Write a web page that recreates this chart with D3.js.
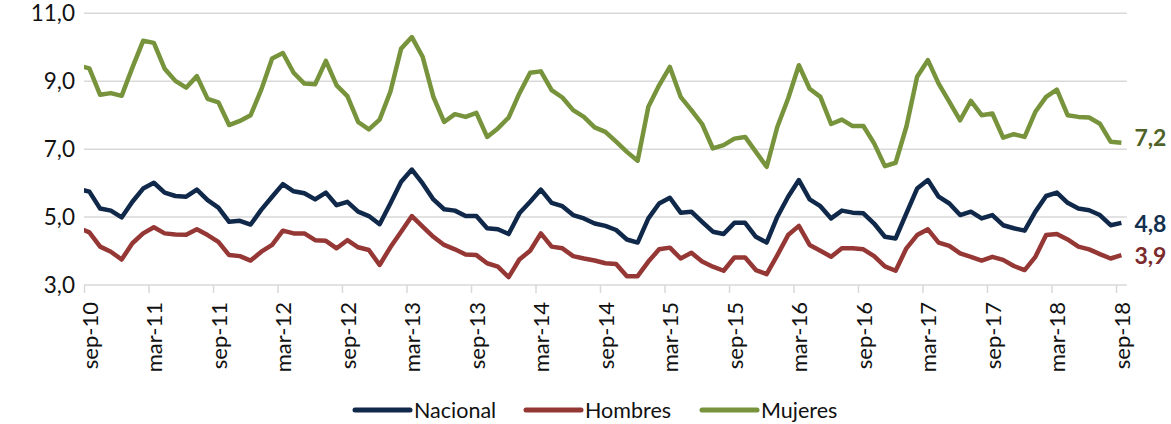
<!DOCTYPE html>
<html>
<head>
<meta charset="utf-8">
<script src="https://cdn.jsdelivr.net/npm/d3@7"></script>
<style>
    body { margin: 0; background: #fff; }
    text { font-family: Lato, 'Open Sans', sans-serif; }
</style>
</head>
<body>
<div id="chart"></div>
<script>
var monthNames = ['ene', 'feb', 'mar', 'abr', 'may', 'jun', 'jul', 'ago', 'sep', 'oct', 'nov', 'dic'],
    // ago-10 .. sep-18 (first month sits outside the plot and is clipped)
    months = d3.range(98).map(k => monthNames[(7 + k) % 12] + '-' + (10 + Math.floor((7 + k) / 12))),
    yTicks = [3, 5, 7, 9, 11],
    nacional = [5.82,
        5.75, 5.25, 5.19, 4.99, 5.45, 5.84, 6.01, 5.72, 5.62, 5.60, 5.81, 5.50, 5.28, 4.86, 4.89, 4.78,
        5.22, 5.60, 5.97, 5.76, 5.70, 5.52, 5.72, 5.35, 5.45, 5.16, 5.03, 4.79, 5.40, 6.04, 6.40, 5.99,
        5.52, 5.23, 5.19, 5.03, 5.03, 4.67, 4.64, 4.50, 5.11, 5.45, 5.81, 5.42, 5.32, 5.06, 4.96, 4.81,
        4.74, 4.62, 4.34, 4.25, 4.96, 5.40, 5.57, 5.13, 5.16, 4.86, 4.57, 4.50, 4.83, 4.83, 4.42, 4.25,
        5.01, 5.60, 6.09, 5.52, 5.32, 4.96, 5.19, 5.13, 5.11, 4.81, 4.42, 4.37, 5.11, 5.84, 6.09, 5.60,
        5.40, 5.06, 5.16, 4.96, 5.06, 4.76, 4.67, 4.60, 5.16, 5.62, 5.72, 5.42, 5.25, 5.20, 5.06, 4.76,
        4.83],
    hombres = [4.68,
        4.55, 4.13, 3.98, 3.75, 4.23, 4.52, 4.70, 4.52, 4.49, 4.48, 4.64, 4.47, 4.27, 3.88, 3.85, 3.72,
        3.98, 4.18, 4.60, 4.52, 4.52, 4.32, 4.30, 4.08, 4.32, 4.11, 4.03, 3.59, 4.11, 4.57, 5.03, 4.72,
        4.42, 4.18, 4.05, 3.90, 3.88, 3.64, 3.54, 3.23, 3.75, 4.01, 4.52, 4.13, 4.08, 3.85, 3.78, 3.72,
        3.64, 3.62, 3.26, 3.26, 3.69, 4.05, 4.10, 3.78, 3.95, 3.69, 3.54, 3.42, 3.81, 3.81, 3.44, 3.32,
        3.88, 4.47, 4.74, 4.18, 4.01, 3.83, 4.08, 4.08, 4.05, 3.85, 3.55, 3.42, 4.08, 4.47, 4.64, 4.25,
        4.15, 3.93, 3.83, 3.72, 3.83, 3.74, 3.56, 3.44, 3.83, 4.47, 4.50, 4.34, 4.13, 4.05, 3.91, 3.78,
        3.88],
    mujeres = [9.46,
        9.38, 8.60, 8.65, 8.57, 9.40, 10.19, 10.13, 9.37, 9.01, 8.81, 9.15, 8.48, 8.38, 7.71, 7.83, 8.00,
        8.76, 9.67, 9.83, 9.25, 8.93, 8.91, 9.60, 8.88, 8.56, 7.80, 7.58, 7.87, 8.69, 9.96, 10.30, 9.72,
        8.54, 7.80, 8.03, 7.95, 8.07, 7.36, 7.61, 7.93, 8.64, 9.25, 9.29, 8.74, 8.52, 8.15, 7.95, 7.64,
        7.51, 7.22, 6.92, 6.66, 8.25, 8.88, 9.42, 8.54, 8.15, 7.74, 7.02, 7.12, 7.31, 7.36, 6.92, 6.48,
        7.66, 8.49, 9.47, 8.78, 8.54, 7.74, 7.87, 7.68, 7.68, 7.17, 6.50, 6.60, 7.66, 9.13, 9.62, 8.93,
        8.39, 7.85, 8.42, 8.00, 8.05, 7.34, 7.44, 7.36, 8.10, 8.54, 8.75, 8.00, 7.95, 7.93, 7.75, 7.22,
        7.19],
    series = [
        { name: 'Nacional', values: nacional, color: '#10294a', label: '#14304f', dy: 0 },
        { name: 'Hombres', values: hombres, color: '#953735', label: '#7b2b2b', dy: 0 },
        { name: 'Mujeres', values: mujeres, color: '#77933c', label: '#4f6228', dy: -6 }
    ];

var width = 1171, height = 424,
    plotLeft = 84, plotRight = 1126.75, plotTop = 13.3, plotBottom = 285;

var svg = d3.select('#chart').append('svg')
    .attr('width', width)
    .attr('height', height);

var x = d3.scaleLinear().domain([0.5, months.length - 0.5]).range([plotLeft, plotRight]);
var y = d3.scaleLinear().domain([3, 11]).range([plotBottom, plotTop]);
var comma = d3.formatLocale({ decimal: ',', thousands: '.', grouping: [3], currency: ['', '€'] }).format('.1f');

svg.append('clipPath').attr('id', 'plot')
    .append('rect')
    .attr('x', plotLeft).attr('y', 0)
    .attr('width', plotRight - plotLeft).attr('height', height);

// Gridlines
svg.append('g')
    .selectAll('line')
    .data(yTicks)
    .enter().append('line')
    .attr('x1', plotLeft).attr('x2', plotRight)
    .attr('y1', d => y(d)).attr('y2', d => y(d))
    .attr('stroke', '#d9d9d9')
    .attr('stroke-width', 1.5);

// Y axis labels
var yAxis = svg.append('g')
    .attr('transform', 'translate(' + plotLeft + ',0)')
    .call(d3.axisLeft(y).tickValues(yTicks).tickSize(0).tickPadding(9).tickFormat(comma));
yAxis.select('.domain').remove();
yAxis.selectAll('text')
    .style('font-size', '22.5px')
    .attr('fill', '#111');

// X axis tick marks
var xAxis = svg.append('g')
    .attr('transform', 'translate(0,' + plotBottom + ')')
    .call(d3.axisBottom(x).tickValues(d3.range(0.5, months.length, 6)).tickSize(8).tickFormat(''));
xAxis.select('.domain').remove();
xAxis.selectAll('line')
    .attr('stroke', '#d9d9d9')
    .attr('stroke-width', 1.5);

// X axis labels
svg.append('g')
    .selectAll('text')
    .data(d3.range(1, months.length, 6))
    .enter().append('text')
    .attr('transform', d => 'translate(' + x(d) + ',302) rotate(-90)')
    .attr('text-anchor', 'end')
    .attr('dominant-baseline', 'central')
    .style('font-size', '22px')
    .attr('fill', '#111')
    .text(d => months[d]);

// Lines
var line = d3.line()
    .x((d, i) => x(i))
    .y(d => y(d));

svg.append('g')
    .attr('clip-path', 'url(#plot)')
    .selectAll('path')
    .data(series)
    .enter().append('path')
    .attr('d', s => line(s.values))
    .attr('fill', 'none')
    .attr('stroke', s => s.color)
    .attr('stroke-width', 4.5)
    .attr('stroke-linejoin', 'round');

// End labels
svg.append('g')
    .selectAll('text')
    .data(series)
    .enter().append('text')
    .attr('x', x(months.length - 1) + 13)
    .attr('y', s => y(s.values[s.values.length - 1]) + s.dy)
    .attr('dominant-baseline', 'central')
    .style('font-size', '23px')
    .style('font-weight', 'bold')
    .attr('fill', s => s.label)
    .text(s => comma(s.values[s.values.length - 1]));

// Legend
var legendX = [355, 526, 702];
var legend = svg.append('g')
    .selectAll('g')
    .data(series)
    .enter().append('g')
    .attr('transform', (s, i) => 'translate(' + legendX[i] + ',410)');

legend.append('line')
    .attr('x1', 0).attr('x2', 55)
    .attr('stroke', s => s.color)
    .attr('stroke-width', 5)
    .attr('stroke-linecap', 'round');

legend.append('text')
    .attr('x', 59)
    .attr('dominant-baseline', 'central')
    .style('font-size', '21.5px')
    .attr('fill', '#111')
    .text(s => s.name);
</script>
</body>
</html>
